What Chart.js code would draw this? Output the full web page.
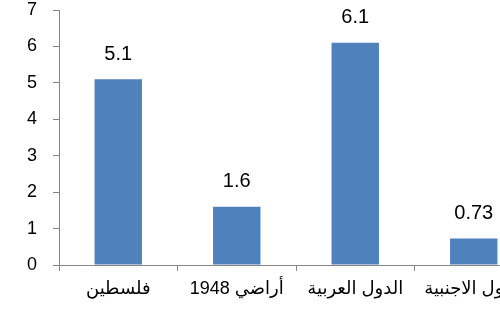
<!DOCTYPE html>
<html>
<head>
<meta charset="utf-8">
<script src="https://cdn.jsdelivr.net/npm/chart.js@4"></script>
<style>
  html, body { margin: 0; padding: 0; background: #fff; overflow: hidden; }
  #wrap { width: 500px; height: 326px; overflow: hidden; }
</style>
</head>
<body>
<div id="wrap"><canvas id="c" width="540" height="326"></canvas></div>
<script>
const categories = ["فلسطين", "أراضي 1948", "الدول العربية", "الدول الاجنبية"];
const values = [5.1, 1.6, 6.1, 0.73];
const valueLabels = ["5.1", "1.6", "6.1", "0.73"];
const yTicks = [0, 1, 2, 3, 4, 5, 6, 7];

const FONT = "'Liberation Sans', Arial, 'DejaVu Sans', sans-serif";

// draws the numbers above each bar
const barLabels = {
  id: "barLabels",
  afterDatasetsDraw(chart) {
    const ctx = chart.ctx;
    const meta = chart.getDatasetMeta(0);
    ctx.save();
    ctx.font = "20px " + FONT;
    ctx.fillStyle = "#000";
    ctx.textAlign = "center";
    ctx.textBaseline = "middle";
    meta.data.forEach((bar, i) => {
      ctx.fillText(valueLabels[i], bar.x, bar.y - 25);
    });
    ctx.restore();
  }
};

new Chart(document.getElementById("c").getContext("2d"), {
  type: "bar",
  data: {
    labels: categories,
    datasets: [{
      data: values,
      backgroundColor: "#4F81BD",
      borderWidth: 0,
      barPercentage: 0.4,
      categoryPercentage: 1
    }]
  },
  options: {
    responsive: false,
    animation: false,
    layout: { padding: { top: 10, right: 7, left: 0, bottom: 0 } },
    plugins: { legend: { display: false }, tooltip: { enabled: false } },
    scales: {
      x: {
        afterFit(scale) { scale.height = 61; },
        border: { color: "#868686", width: 1 },
        grid: { drawOnChartArea: false, offset: true, tickLength: 6, color: "#868686" },
        ticks: { color: "#000", font: { family: FONT, size: 18 }, padding: 7, maxRotation: 0, autoSkip: false }
      },
      y: {
        min: 0,
        max: 7,
        afterFit(scale) {
          scale.width = 59;
          scale.paddingTop = 0;
          scale.paddingBottom = 0;
        },
        afterBuildTicks(scale) { scale.ticks = yTicks.map(v => ({ value: v })); },
        border: { color: "#868686", width: 1 },
        grid: { drawOnChartArea: false, tickLength: 6, color: "#868686" },
        ticks: { color: "#000", font: { family: FONT, size: 18 }, padding: 16 }
      }
    }
  },
  plugins: [barLabels]
});
</script>
</body>
</html>
